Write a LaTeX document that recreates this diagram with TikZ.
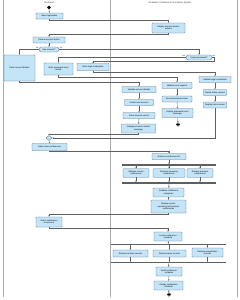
\documentclass[tikz,border=0pt]{standalone}
\usepackage{fontspec}
\setmainfont{Liberation Sans}
\usetikzlibrary{arrows.meta,shapes.geometric}
\definecolor{actfill}{RGB}{196,229,247}
\definecolor{actline}{RGB}{84,112,140}
\definecolor{lanegray}{RGB}{170,170,170}
\definecolor{flowgray}{RGB}{95,95,95}
\tikzset{
  act/.style={draw=actline, line width=0.9pt, fill=actfill, rounded corners=0.6mm,
    font=\fontsize{6}{7}\selectfont, align=center, inner sep=0.8mm, minimum height=6mm},
  dec/.style={act, rounded corners=2.4mm, minimum height=5mm, inner sep=0.4mm},
  mergept/.style={diamond, draw=actline, line width=0.9pt, fill=actfill,
    minimum width=6mm, minimum height=5mm, inner sep=0},
  bar/.style={fill=flowgray, minimum height=1.4mm, inner sep=0},
  startpt/.style={circle, fill=black, minimum size=3.6mm, inner sep=0},
  endpt/.style={circle, draw=black, line width=0.8pt, minimum size=3.8mm, inner sep=0,
    path picture={\fill (path picture bounding box.center) circle (1.1mm);}},
  flow/.style={draw=flowgray, line width=1pt, -{Stealth[length=1.6mm,width=1.3mm]}},
  guard/.style={font=\fontsize{5}{6}\selectfont, inner sep=0.5mm},
  lanehead/.style={font=\fontsize{6.5}{7.5}\selectfont, text=black!80},
}
\begin{document}
\begin{tikzpicture}[x=1mm,y=-1mm]
\useasboundingbox (0,0) rectangle (240,300);
% swimlanes
\draw[lanegray, line width=1.4pt] (3,0) -- (3,297);
\draw[lanegray, line width=1.4pt] (110,0) -- (110,297);
\draw[lanegray, line width=1.4pt] (237,0) -- (237,297);
\node[lanehead] at (49,3) {Customer};
\node[lanehead] at (170,3) {Academic Conference Information System};

% account access
\node[startpt] (s0) at (49,7.5) {};
\node[act, minimum width=27mm] (open) at (49.5,16) {Open application};
\node[act, minimum width=33mm, minimum height=10mm] (access) at (168.5,28) {Display account access\\options};
\node[act, minimum width=32mm] (choose) at (49,40) {Choose account action};
\node[dec, minimum width=20mm] (hasacc) at (49,49.5) {Has account?};
\node[dec, minimum width=26mm] (forgot) at (199,57.5) {Forgot password?};
\node[guard, anchor=south east] at (hasacc.west) {No};
\node[guard, anchor=south west] at (hasacc.east) {Yes};
\node[guard, anchor=south east] at (forgot.west) {Yes};
\node[guard, anchor=south west] at (forgot.east) {No};
\node[act, minimum width=31mm, minimum height=26mm] (enteracc) at (19.5,68) {Enter account details};
\node[act, minimum width=29mm, minimum height=12mm] (enterreset) at (58.5,69) {Enter password reset\\details};
\node[act, minimum width=32mm, minimum height=7mm] (enterlogin) at (93,67) {Enter login credentials};

% new account
\node[act, minimum width=34mm] (valacc) at (139,89.5) {Validate account details};
\node[act, minimum width=29mm] (createacc) at (139,102.5) {Create user account};
\node[act, minimum width=32mm] (storeacc) at (139,115.5) {Store account record};
\node[act, minimum width=34mm, minimum height=9mm] (accmsg) at (138.5,128.5) {Display account created\\message};

% password reset
\node[act, minimum width=30mm] (valreset) at (177,85.5) {Validate reset request};
\node[act, minimum width=30mm] (recreset) at (177,99) {Record password reset};
\node[act, minimum width=31mm, minimum height=9mm] (resetmsg) at (177.5,113) {Display password reset\\message};
\node[endpt] (end1) at (178,124.5) {};

% login
\node[act, minimum width=32mm] (vallogin) at (215,79.5) {Validate login credentials};
\node[act, minimum width=23mm] (session) at (215,92.5) {Create active session};
\node[act, minimum width=23mm] (home) at (215,105) {Display home screen};

% conferences
\node[mergept] (mrg) at (49,138) {};
\node[act, minimum width=35mm, minimum height=7mm] (viewconf) at (49.5,147) {Select view conferences};
\node[act, minimum width=34mm] (retr) at (169,156.5) {Retrieve conference list};
\node[bar, minimum width=94mm] (fork1) at (169,165) {};
\node[act, minimum width=26mm, minimum height=8.5mm] (curconf) at (136,173) {Retrieve current\\conferences};
\node[act, minimum width=32mm, minimum height=8.5mm] (upconf) at (169,173) {Retrieve upcoming\\conferences};
\node[act, minimum width=26mm, minimum height=8.5mm] (prevconf) at (200,173) {Retrieve previous\\conferences};
\node[bar, minimum width=94mm] (join1) at (169,183) {};
\node[act, minimum width=31mm, minimum height=9mm] (combine) at (168.5,192.5) {Combine conference\\categories};
\node[act, minimum width=35mm, minimum height=13mm] (dispconf) at (168.5,206.5) {Display current,\\upcoming and previous\\conferences};
\node[act, minimum width=26mm, minimum height=10mm] (occ) at (49,222) {Select conference\\occurrence};

% schedule
\node[act, minimum width=28mm, minimum height=9mm] (locate) at (168,236.5) {Locate conference\\schedule};
\node[bar, minimum width=115mm] (fork2) at (168.5,244.5) {};
\node[act, minimum width=35mm, minimum height=7mm] (sessrec) at (130.5,253.5) {Retrieve session records};
\node[act, minimum width=33mm, minimum height=7mm] (teamrec) at (169.5,253.5) {Retrieve team records};
\node[act, minimum width=31mm, minimum height=9mm] (presrec) at (207.5,252.5) {Retrieve presentation\\records};
\node[bar, minimum width=115mm] (join2) at (168.5,262.7) {};
\node[act, minimum width=26mm, minimum height=9mm] (build) at (169,271.5) {Build conference\\schedule};
\node[act, minimum width=29mm, minimum height=9mm] (dispsched) at (168.5,285.5) {Display conference\\schedule};
\node[endpt] (end2) at (169,294.5) {};

% flows
\draw[flow] (s0) -- (open);
\draw[flow] (open.south) -- ++(0,1.5) -| (access.north);
\draw[flow] (access.south) -- ++(0,1) -| (choose.north);
\draw[flow] (choose) -- (hasacc);
\draw[flow] (hasacc.west) -| (enteracc.north);
\draw[flow] (hasacc.east) -| (forgot.north);
\draw[flow] (forgot.west) -| (enterreset.north);
\draw[flow] (forgot.east) -- ++(2,0) -- ++(0,4) -| (enterlogin.north);
\draw[flow] (enteracc.south) -- ++(0,1.5) -| (valacc.north);
\draw[flow] (enterreset.south) -- ++(0,2.5) -| (valreset.north);
\draw[flow] (enterlogin.south) -- ++(0,1.5) -| (vallogin.north);
\draw[flow] (valacc) -- (createacc);
\draw[flow] (createacc) -- (storeacc);
\draw[flow] (storeacc) -- (accmsg);
\draw[flow] (valreset) -- (recreset);
\draw[flow] (recreset) -- (resetmsg);
\draw[flow] (resetmsg) -- (end1);
\draw[flow] (vallogin) -- (session);
\draw[flow] (session) -- (home);
\draw[flow] (accmsg.south) -- ++(0,1) -| (mrg.north);
\draw[flow] (home.south) |- (mrg.east);
\draw[flow] (mrg) -- (viewconf);
\draw[flow] (viewconf.south) -- ++(0,1) -| (retr.north);
\draw[flow] (retr) -- (fork1);
\foreach \n in {curconf,upconf,prevconf}{
  \draw[flow] (fork1.south -| \n.north) -- (\n.north);
  \draw[flow] (\n.south) -- (\n.south |- join1.north);
}
\draw[flow] (join1) -- (combine);
\draw[flow] (combine) -- (dispconf);
\draw[flow] (dispconf.south) -- ++(0,0.8) -| (occ.north);
\draw[flow] (occ.south) -- ++(0,1) -| (locate.north);
\draw[flow] (locate) -- (fork2);
\foreach \n in {sessrec,teamrec,presrec}{
  \draw[flow] (fork2.south -| \n.north) -- (\n.north);
  \draw[flow] (\n.south) -- (\n.south |- join2.north);
}
\draw[flow] (join2) -- (build);
\draw[flow] (build) -- (dispsched);
\draw[flow] (dispsched) -- (end2);
\end{tikzpicture}
\end{document}
